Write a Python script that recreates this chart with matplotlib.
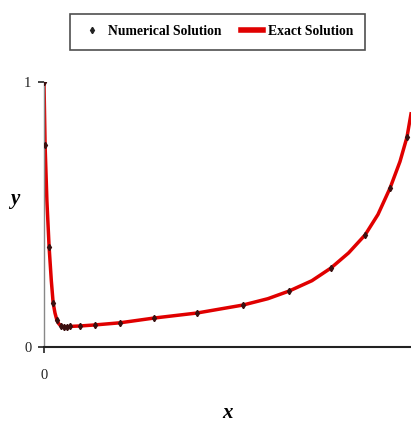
import matplotlib.pyplot as plt
from matplotlib.lines import Line2D

# numerical solution (markers)
x_num = [0.0, 0.003, 0.014, 0.025, 0.035, 0.046, 0.054, 0.063, 0.071, 0.098,
         0.139, 0.207, 0.300, 0.417, 0.542, 0.668, 0.782, 0.875, 0.943, 0.989]
y_num = [1.0, 0.762, 0.377, 0.166, 0.102, 0.079, 0.075, 0.075, 0.079, 0.079,
         0.083, 0.091, 0.109, 0.128, 0.158, 0.211, 0.298, 0.423, 0.600, 0.792]

# exact solution (line)
x_ex = [0.0, 0.003, 0.008, 0.014, 0.020, 0.025, 0.030, 0.035, 0.040, 0.046,
        0.055, 0.063, 0.080, 0.098, 0.139, 0.207, 0.300, 0.417, 0.542, 0.610,
        0.668, 0.730, 0.782, 0.830, 0.875, 0.910, 0.943, 0.970, 0.989, 1.0]
y_ex = [1.0, 0.762, 0.55, 0.377, 0.25, 0.166, 0.128, 0.102, 0.088, 0.079,
        0.076, 0.076, 0.078, 0.079, 0.083, 0.091, 0.109, 0.128, 0.158, 0.182,
        0.211, 0.250, 0.298, 0.355, 0.423, 0.500, 0.600, 0.700, 0.792, 0.880]

plt.rcParams['font.family'] = ['Liberation Serif', 'DejaVu Serif']

fig = plt.figure(figsize=(4.11, 4.21), dpi=100)
ax = fig.add_axes([0.107, 0.176, 0.893, 0.629])

ax.plot(x_ex, y_ex, color="#e00000", lw=2.5, zorder=2)
ax.plot(x_num, y_num, linestyle="none", marker="d", ms=3.2,
        color="#3a1010", zorder=3)

ax.set_xlim(0, 1.0)
ax.set_ylim(0, 1.0)
ax.set_xticks([0])
ax.set_yticks([0, 1])
ax.set_xticklabels(["0"])
ax.set_yticklabels(["0", "1"])
ax.tick_params(length=4, width=1.2, labelsize=10.5, colors="#222222", pad=5)
ax.tick_params(axis="x", pad=12)
for s in ["top", "right"]:
    ax.spines[s].set_visible(False)
for s in ["left", "bottom"]:
    ax.spines[s].set_linewidth(1.5)
    ax.spines[s].set_color("#222222")
ax.spines["left"].set_linewidth(1.0)
ax.spines["left"].set_color("#888888")

ax.set_xlabel("x", fontsize=15, fontstyle="italic", fontweight="bold", labelpad=12)
ax.set_ylabel("y", fontsize=15, fontstyle="italic", fontweight="bold",
              rotation=0, labelpad=14)
ax.yaxis.set_label_coords(-0.08, 0.52)
ax.xaxis.set_label_coords(0.5, -0.21)

handles = [Line2D([], [], linestyle="none", marker="d", ms=3.2, color="#222222"),
           Line2D([], [], color="#e00000", lw=4)]
leg = fig.legend(handles, ["Numerical Solution", "Exact Solution"],
                 loc="center", bbox_to_anchor=(0.529, 0.925), ncol=2,
                 frameon=True, fancybox=False, handlelength=1.6,
                 columnspacing=1.4, handletextpad=0.4, borderpad=0.85,
                 borderaxespad=0.0, prop={"weight": "bold", "size": 9.8})
leg.get_frame().set_edgecolor("#222222")
leg.get_frame().set_linewidth(1.2)

plt.savefig("out.png", dpi=100)
